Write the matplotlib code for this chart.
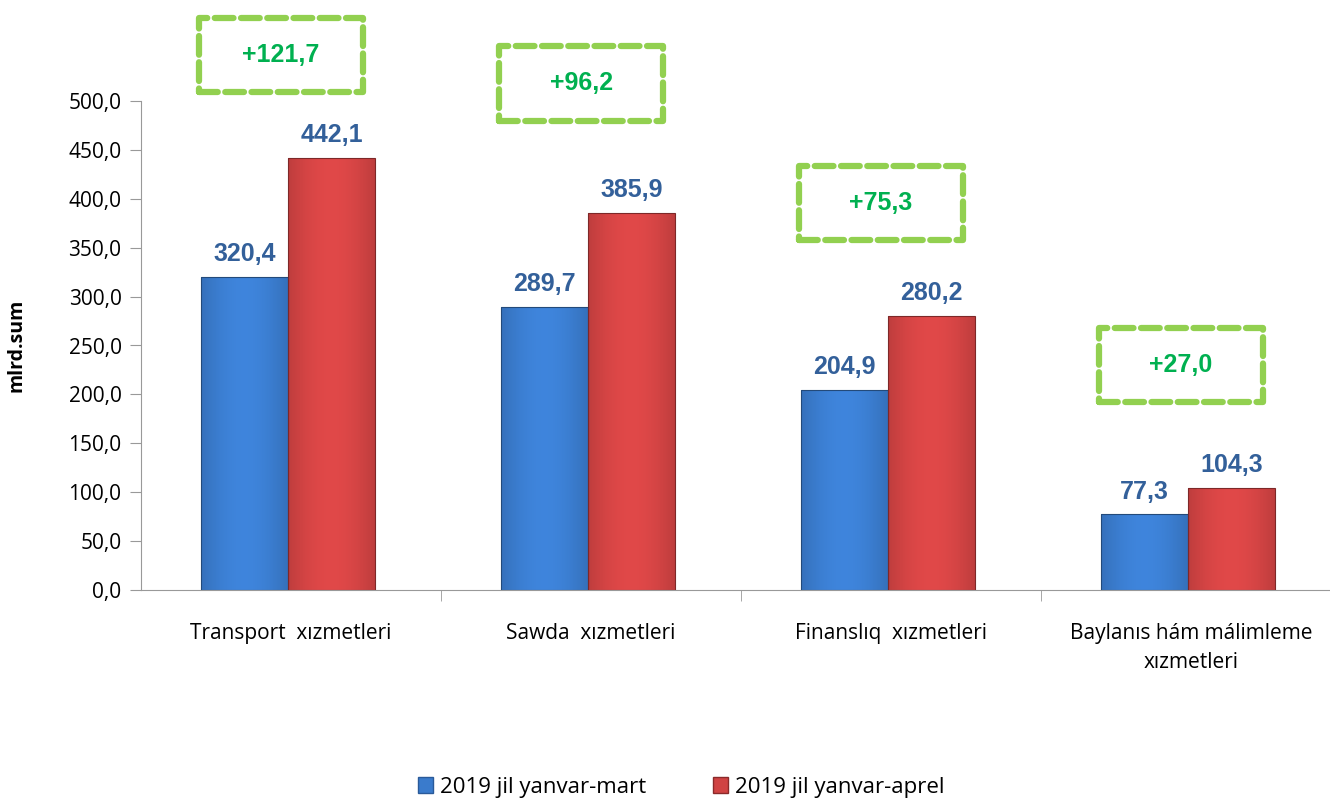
import matplotlib.pyplot as plt
import numpy as np
from matplotlib.patches import Rectangle

categories = ['Transport  xızmetleri', 'Sawda  xızmetleri', 'Finanslıq  xızmetleri',
              'Baylanıs hám málimleme\nxızmetleri']
mart = [320.4, 289.7, 204.9, 77.3]
aprel = [442.1, 385.9, 280.2, 104.3]
series_names = ['2019 jil yanvar-mart', '2019 jil yanvar-aprel']
yticks = [0, 50, 100, 150, 200, 250, 300, 350, 400, 450, 500]

# box centre heights for the difference labels (data units)
box_y = [547, 518, 396, 230]

plt.rcParams['font.family'] = ['Open Sans', 'DejaVu Sans']

fig = plt.figure(figsize=(13.3, 8.05), dpi=100)
ax = fig.add_axes([141/1330, 1 - 590/805, 1200/1330, 489/805])

x = np.arange(len(categories))
w = 0.29
blue = '#3a7bcc'
red = '#d04343'

def grad_bar(xc, h, base):
    # horizontal gradient to mimic the bevelled excel bars
    c = np.array(plt.matplotlib.colors.to_rgb(base))
    t = np.linspace(0, 1, 64)
    shade = 0.78 + 0.3 * np.sin(np.pi * (0.15 + 0.7 * t))
    img = np.clip(c[None, :] * shade[:, None], 0, 1)[None, :, :]
    r = Rectangle((xc - w/2, 0), w, h, facecolor=base, edgecolor='none')
    ax.add_patch(r)
    im = ax.imshow(img, extent=(xc - w/2, xc + w/2, 0, h), aspect='auto', zorder=2)
    im.set_clip_path(r)
    ax.add_patch(Rectangle((xc - w/2, 0), w, h, facecolor='none',
                           edgecolor=np.clip(c * 0.6, 0, 1), lw=0.8, zorder=3))

off = -0.01
for i in range(len(categories)):
    grad_bar(x[i] + off - w/2, mart[i], blue)
    grad_bar(x[i] + off + w/2, aprel[i], red)
    ax.text(x[i] + off - w/2, mart[i] + 11, f'{mart[i]:.1f}'.replace('.', ','),
            ha='center', va='bottom', fontsize=18, fontweight='bold',
            color='#33609a', family='Liberation Sans')
    ax.text(x[i] + off + w/2, aprel[i] + 11, f'{aprel[i]:.1f}'.replace('.', ','),
            ha='center', va='bottom', fontsize=18, fontweight='bold',
            color='#33609a', family='Liberation Sans')
    d = aprel[i] - mart[i]
    bx = x[i] - 0.033
    ax.add_patch(Rectangle((bx - 0.273, box_y[i] - 38), 0.546, 76, facecolor='none',
                           edgecolor='#92d050', lw=4.5, linestyle=(0, (3, 1.2)),
                           capstyle='round', joinstyle='round', clip_on=False, zorder=4))
    ax.text(bx, box_y[i], f'+{d:.1f}'.replace('.', ','), ha='center', va='center',
            fontsize=18, fontweight='bold', color='#00b050', family='Liberation Sans')

ax.set_xlim(-0.5, 3.5)
ax.set_ylim(0, 500)
ax.set_yticks(yticks)
ax.set_yticklabels([f'{v:.1f}'.replace('.', ',') for v in yticks], fontsize=15)
ax.set_xticks(x)
ax.set_xticklabels(categories, fontsize=15, linespacing=1.5)
ax.tick_params(axis='x', length=0, pad=24)
ax.set_xticks([0.5, 1.5, 2.5], minor=True)
ax.tick_params(axis='x', which='minor', length=8, color='#999999', direction='out')
ax.tick_params(axis='y', length=8, color='#999999', direction='out', pad=6)
for s in ['top', 'right']:
    ax.spines[s].set_visible(False)
for s in ['left', 'bottom']:
    ax.spines[s].set_color('#999999')
ax.set_ylabel('mlrd.sum', fontsize=14, fontweight='bold', labelpad=30)

handles = [Rectangle((0, 0), 1, 1, facecolor=blue, edgecolor='#2a5a99'),
           Rectangle((0, 0), 1, 1, facecolor=red, edgecolor='#8a2a2a')]
fig.legend(handles, series_names, loc='center', bbox_to_anchor=(0.512, 0.022), ncol=2,
           frameon=False, fontsize=16, handlelength=0.7, handleheight=0.7,
           handletextpad=0.3, columnspacing=3.0)

fig.savefig('out.png', dpi=100)
